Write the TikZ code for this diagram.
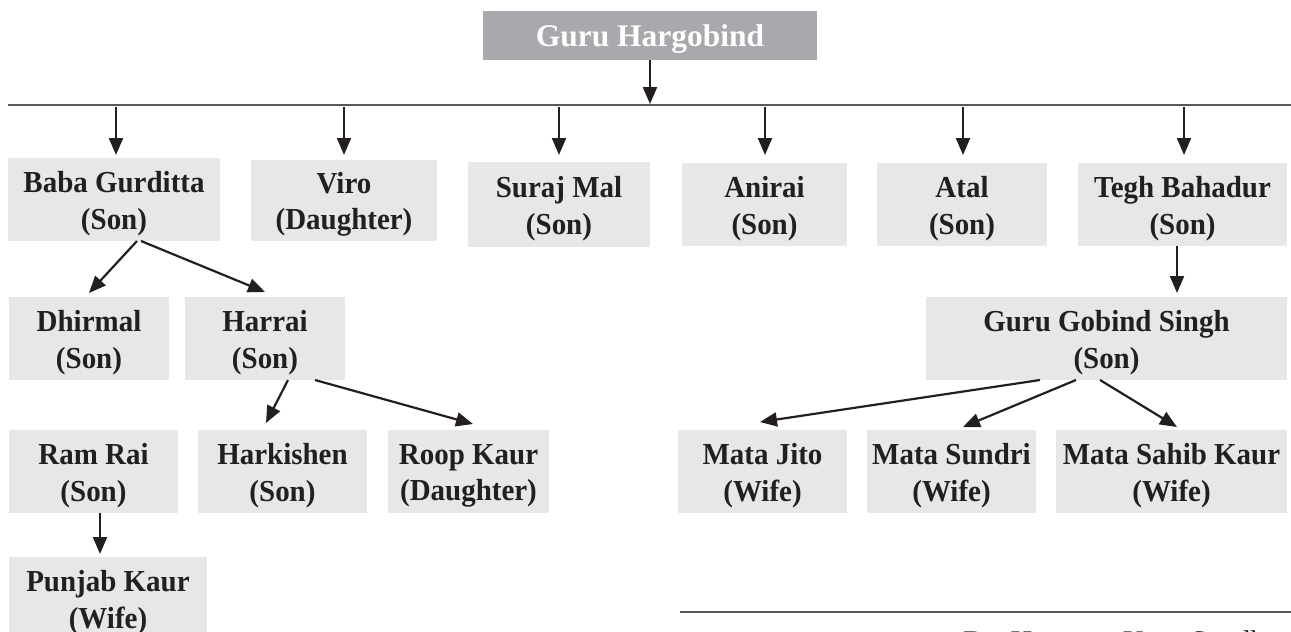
\documentclass[tikz,border=0pt]{standalone}
\usepackage{fontspec}
\setmainfont{Liberation Serif}
\newfontfamily\famfont{Liberation Serif}[FakeStretch=0.95]
\usetikzlibrary{arrows.meta,calc}
\definecolor{boxgray}{HTML}{E6E7E8}
\definecolor{topgray}{HTML}{A7A9AC}
\definecolor{inkc}{HTML}{231F20}
\definecolor{linec}{HTML}{58595B}
\newcommand\tstrut{\rule{0pt}{29pt}}
\begin{document}
\begin{tikzpicture}[x=1pt,y=-1pt,
  every node/.style={inner sep=0pt,outer sep=0pt},
  famnode/.style={fill=boxgray,text=inkc,align=center,font=\famfont\fontsize{30.5}{36.5}\selectfont\bfseries},
  topnode/.style={fill=topgray,text=white,align=center,font=\fontsize{31.5}{37}\selectfont\bfseries,
    text height=28pt,text depth=7pt},
  arr/.style={draw=inkc,line width=2.2pt,-{Triangle[length=17pt,width=14pt]}},
  hline/.style={draw=linec,line width=1.3pt}]
\useasboundingbox (0,0) rectangle (1291,632);
% top
\node[topnode,minimum width=334pt,minimum height=49pt] (gh) at (650,35.5) {Guru Hargobind};
\coordinate (hub) at (650,104);
\coordinate (lineL) at (8,105);
\coordinate (lineR) at (1291,105);
\draw[hline] (lineL) -- (lineR);
\draw[arr] (gh.south -| hub) -- (hub);
% row 1
\node[famnode,minimum width=212pt,minimum height=83pt] (baba) at (114,199.5) {\tstrut Baba Gurditta\\(Son)};
\node[famnode,minimum width=186pt,minimum height=81pt] (viro) at (344,200.5) {\tstrut Viro\\(Daughter)};
\node[famnode,minimum width=182pt,minimum height=85pt] (suraj) at (559,204.5) {\tstrut Suraj Mal\\(Son)};
\node[famnode,minimum width=165pt,minimum height=83pt] (anirai) at (764.5,204.5) {\tstrut Anirai\\(Son)};
\node[famnode,minimum width=170pt,minimum height=83pt] (atal) at (962,204.5) {\tstrut Atal\\(Son)};
\node[famnode,minimum width=209pt,minimum height=83pt] (tegh) at (1182.5,204.5) {\tstrut Tegh Bahadur\\(Son)};
\coordinate (c1) at (116,107);
\coordinate (c2) at (344,107);
\coordinate (c3) at (559,107);
\coordinate (c4) at (765,107);
\coordinate (c5) at (963,107);
\coordinate (c6) at (1184,107);
\draw[arr] (c1) -- ($(c1 |- baba.north)+(0,-3)$);
\draw[arr] (c2) -- ($(c2 |- baba.north)+(0,-3)$);
\draw[arr] (c3) -- ($(c3 |- baba.north)+(0,-3)$);
\draw[arr] (c4) -- ($(c4 |- baba.north)+(0,-3)$);
\draw[arr] (c5) -- ($(c5 |- baba.north)+(0,-3)$);
\draw[arr] (c6) -- ($(c6 |- baba.north)+(0,-3)$);
% row 2
\node[famnode,minimum width=160pt,minimum height=83pt] (dhirmal) at (89,338.5) {\tstrut Dhirmal\\(Son)};
\node[famnode,minimum width=160pt,minimum height=83pt] (harrai) at (265,338.5) {\tstrut Harrai\\(Son)};
\node[famnode,minimum width=361pt,minimum height=83pt] (ggs) at (1106.5,338.5) {\tstrut Guru Gobind Singh\\(Son)};
\draw[arr] ([xshift=23pt]baba.south) -- ([yshift=4pt]dhirmal.north);
\draw[arr] ([xshift=27pt]baba.south) -- ([yshift=5pt]harrai.north);
\draw[arr] ([xshift=-5.5pt]tegh.south) -- ([xshift=-5.5pt,yshift=4pt]tegh.south |- ggs.north);
% row 3
\node[famnode,minimum width=169pt,minimum height=83pt] (ramrai) at (93.5,471.5) {\tstrut Ram Rai\\(Son)};
\node[famnode,minimum width=169pt,minimum height=83pt] (harkishen) at (282.5,471.5) {\tstrut Harkishen\\(Son)};
\node[famnode,minimum width=161pt,minimum height=83pt] (roop) at (468.5,471.5) {\tstrut Roop Kaur\\(Daughter)};
\node[famnode,minimum width=169pt,minimum height=83pt] (jito) at (762.5,471.5) {\tstrut Mata Jito\\(Wife)};
\node[famnode,minimum width=169pt,minimum height=83pt] (sundri) at (951.5,471.5) {\tstrut Mata Sundri\\(Wife)};
\node[famnode,minimum width=231pt,minimum height=83pt] (sahib) at (1171.5,471.5) {\tstrut Mata Sahib Kaur\\(Wife)};
\draw[arr] ([xshift=23pt]harrai.south) -- ([xshift=-16.5pt,yshift=7pt]harkishen.north);
\draw[arr] ([xshift=50pt]harrai.south) -- ([xshift=4.5pt,yshift=6pt]roop.north);
\draw[arr] ([xshift=-66.5pt]ggs.south) -- ([xshift=-2.5pt,yshift=8pt]jito.north);
\draw[arr] ([xshift=-30.5pt]ggs.south) -- ([xshift=11.5pt,yshift=3pt]sundri.north);
\draw[arr] ([xshift=-6.5pt]ggs.south) -- ([xshift=5.5pt,yshift=3pt]sahib.north);
% row 4
\node[famnode,minimum width=198pt,minimum height=83pt] (punjab) at (108,598.5) {\tstrut Punjab Kaur\\(Wife)};
\draw[arr] ([xshift=6.5pt]ramrai.south) -- ([xshift=6.5pt,yshift=3pt]ramrai.south |- punjab.north);
% footer
\coordinate (footL) at (680,612);
\coordinate (footR) at (1291,612);
\draw[hline] (footL) -- (footR);
\node[anchor=base west,text=inkc,font=\fontsize{30}{34}\selectfont] (author) at (963,651) {Dr. Harpreet Kaur Sandhu};
\end{tikzpicture}
\end{document}
